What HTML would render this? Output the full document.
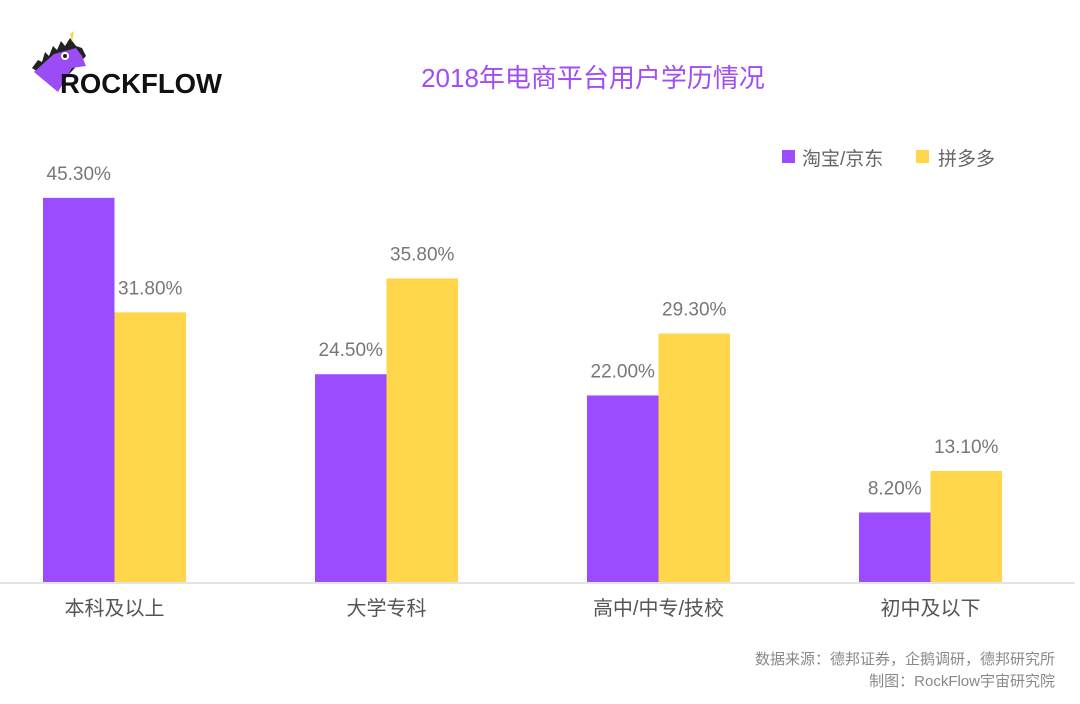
<!DOCTYPE html>
<html><head><meta charset="utf-8"><style>
body{margin:0;background:#fff;}
#wrap{position:relative;width:1080px;height:704px;overflow:hidden;font-family:"Liberation Sans","Noto Sans CJK SC",sans-serif;}
.t{position:absolute;white-space:nowrap;}
</style></head><body>
<div id="wrap">
<svg style="position:absolute;left:30px;top:30px" width="200" height="70" viewBox="0 0 200 70">
<polygon points="2,38 8,30 12,32 15,22 19,26 23,16 27,20 31,11 35,16 40,8 46,16 52,18 56,26 28,56 2,38" fill="#222"/>
<polygon points="4,42 24,24 46,18 52,26 56,36 42,38 28,62" fill="#9b4cf5"/>
<polygon points="40,4 44,1 42,12" fill="#f2d34a"/>
<circle cx="35" cy="26" r="4" fill="#fff"/><circle cx="35" cy="26" r="2" fill="#222"/>
<text x="30" y="63" font-family="Liberation Sans" font-weight="bold" font-size="28" textLength="162" lengthAdjust="spacingAndGlyphs" fill="#111">ROCKFLOW</text>
</svg>
<div class="t" style="left:0;width:1186px;text-align:center;top:58px;font-size:26px;color:#a24cf5;">2018年电商平台用户学历情况</div>
<div style="position:absolute;left:782px;top:150px;width:13px;height:13px;background:#9b4cff"></div>
<div class="t" style="left:802px;top:144px;font-size:19px;color:#666">淘宝/京东</div>
<div style="position:absolute;left:916px;top:150px;width:13px;height:13px;background:#ffd54a"></div>
<div class="t" style="left:938px;top:144px;font-size:19px;color:#666">拼多多</div>
<svg id="chart" style="position:absolute;left:0;top:0" width="1080" height="704"></svg>
<div class="t" style="right:25px;top:648px;font-size:15px;color:#888">数据来源：德邦证券，企鹅调研，德邦研究所</div>
<div class="t" style="right:25px;top:670px;font-size:15px;color:#888">制图：RockFlow宇宙研究院</div>
</div>
<script>
const categories=["本科及以上","大学专科","高中/中专/技校","初中及以下"];
const seriesTaobao=[45.3,24.5,22.0,8.2];
const seriesPdd=[31.8,35.8,29.3,13.1];
const svg=document.getElementById('chart');
const NS='http://www.w3.org/2000/svg';
const baseY=582, pxPer=8.48, x0=43, step=272, bw=71.5;
function y(v){return baseY-v*pxPer;}
function mk(tag,attrs){const e=document.createElementNS(NS,tag);for(const k in attrs)e.setAttribute(k,attrs[k]);svg.appendChild(e);return e;}
const ax=mk('line',{x1:0,x2:1075,y1:baseY+1,y2:baseY+1,stroke:'#e3e3e3','stroke-width':2});


[[seriesTaobao,'#9b4cff',0,'taobao'],[seriesPdd,'#ffd54a',1,'pdd']].forEach(([s,c,o,n])=>{
 s.forEach((v,i)=>{
  const x=x0+i*step+o*bw;
  const r=mk('rect',{x:x,y:y(v),width:bw,height:v*pxPer,fill:c});
  
  
  const t=mk('text',{x:x+bw/2,y:y(v)-18,'text-anchor':'middle','font-size':19,fill:'#777','font-family':'Liberation Sans'});
  t.textContent=v.toFixed(2)+'%';
  
  
 });
});
categories.forEach((c,i)=>{
 const t=mk('text',{x:x0+i*step+bw,y:615,'text-anchor':'middle','font-size':20,fill:'#555','font-family':'Liberation Sans, Noto Sans CJK SC, sans-serif'});
 t.textContent=c;
 
 
});
</script>
</body></html>
